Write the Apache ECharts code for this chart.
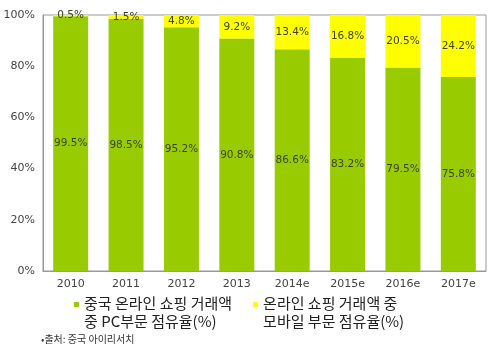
<!DOCTYPE html>
<html>
<head>
<meta charset="utf-8">
<script src="https://cdn.jsdelivr.net/npm/echarts@6/dist/echarts.min.js"></script>
<style>
  html, body { margin: 0; padding: 0; background: #fff; }
  #chart { width: 500px; height: 348px; }
</style>
</head>
<body>
<div id="chart"></div>
<script>
// Share of China's online shopping transaction value: PC vs mobile
const years = ['2010', '2011', '2012', '2013', '2014e', '2015e', '2016e', '2017e'];
const pcShare = [99.5, 98.5, 95.2, 90.8, 86.6, 83.2, 79.5, 75.8];
const mobileShare = [0.5, 1.5, 4.8, 9.2, 13.4, 16.8, 20.5, 24.2];
const pcName = '중국 온라인 쇼핑 거래액\n중 PC부문 점유율(%)';
const mobileName = '온라인 쇼핑 거래액 중\n모바일 부문 점유율(%)';
const sourceNote = '•출처: 중국 아이리서치';

const numFont = '"DejaVu Sans", "Noto Sans", sans-serif';
const krFont = '"Noto Sans CJK KR", sans-serif';
// small square sitting beside the first text line of a two-line legend entry
const legendIcon = 'path://M0,8L5,8L5,13L0,13Z M0,0L0,36';

const chart = echarts.init(document.getElementById('chart'), null, { renderer: 'canvas' });

const labelStyle = {
  show: true,
  position: 'inside',
  color: '#3c4320',
  fontSize: 10.5,
  fontFamily: numFont,
  formatter: p => p.value.toFixed(1) + '%'
};

chart.setOption({
  animation: false,
  grid: {
    left: 43, right: 14, top: 15, bottom: 77,
    show: true, borderColor: '#999', borderWidth: 1
  },
  xAxis: {
    type: 'category',
    data: years,
    axisLine: { lineStyle: { color: '#999' } },
    axisTick: { show: false },
    axisLabel: { color: '#444', fontSize: 11, fontFamily: numFont, margin: 8 }
  },
  yAxis: {
    type: 'value',
    min: 0, max: 100, interval: 20,
    axisLine: { show: true, lineStyle: { color: '#999' } },
    axisTick: { show: false },
    splitLine: { show: false },
    axisLabel: { color: '#444', fontSize: 11, fontFamily: numFont, margin: 8, formatter: '{value}%' }
  },
  legend: {
    left: 74, top: 294, padding: 0,
    itemWidth: 5, itemHeight: 36, itemGap: 21,
    icon: legendIcon,
    textStyle: { fontSize: 15, fontFamily: krFont, color: '#222', lineHeight: 18 },
    data: [pcName, mobileName]
  },
  graphic: [{
    type: 'text', left: 41, top: 334,
    style: { text: sourceNote, fontSize: 10, fontFamily: krFont, fill: '#333' }
  }],
  series: [
    {
      name: pcName, type: 'bar', stack: 'share', barWidth: 35,
      data: pcShare,
      itemStyle: { color: '#99cc00' },
      label: labelStyle
    },
    {
      name: mobileName, type: 'bar', stack: 'share', barWidth: 35,
      data: mobileShare,
      itemStyle: { color: '#ffff00' },
      label: labelStyle
    }
  ]
});
</script>
</body>
</html>
